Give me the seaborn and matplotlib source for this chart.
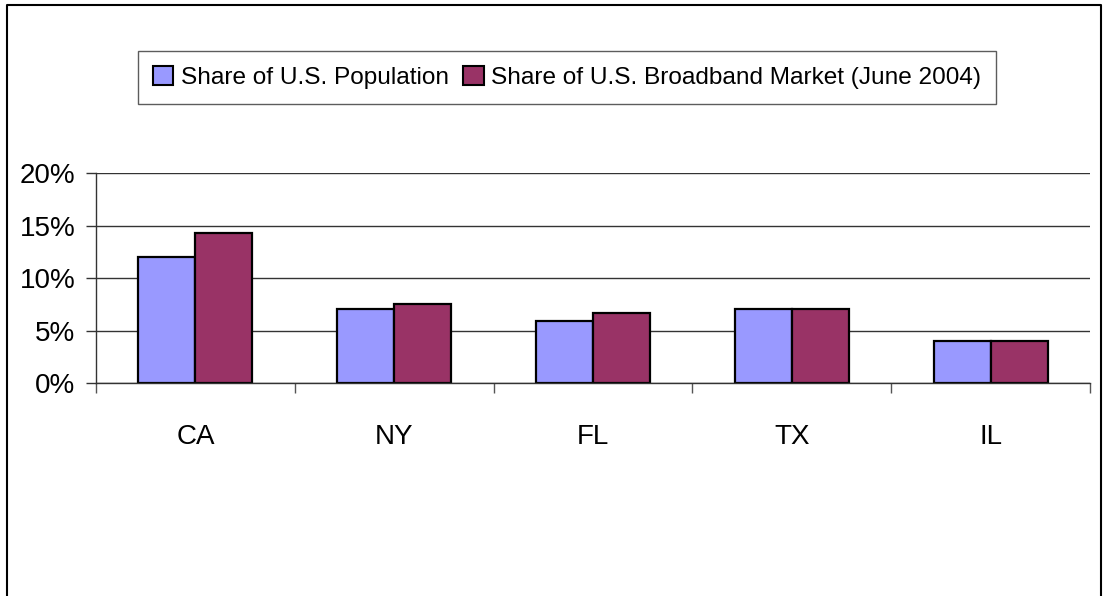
import pandas as pd
import matplotlib.pyplot as plt
import seaborn as sns
from matplotlib.ticker import FixedLocator, PercentFormatter
from matplotlib.lines import Line2D

states = ["CA", "NY", "FL", "TX", "IL"]
population = [12.0, 7.1, 5.9, 7.1, 4.0]
broadband = [14.3, 7.6, 6.7, 7.1, 4.0]
series = ["Share of U.S. Population", "Share of U.S. Broadband Market (June 2004)"]
colors = ["#9999FF", "#993366"]
yticks = [0, 5, 10, 15, 20]

df = pd.DataFrame({
    "State": states * 2,
    "Share": population + broadband,
    "Series": [series[0]] * len(states) + [series[1]] * len(states),
})

sns.set_theme(style="white")
plt.rcParams["font.family"] = ["Liberation Sans Narrow", "Liberation Sans", "DejaVu Sans"]
plt.rcParams["text.color"] = "black"
plt.rcParams["xtick.color"] = "black"
plt.rcParams["ytick.color"] = "black"

fig = plt.figure(figsize=(11.04, 5.96), dpi=100)
ax = fig.add_axes([96 / 1104, 1 - 383.3 / 596, 994 / 1104, 210 / 596])

sns.barplot(data=df, x="State", y="Share", hue="Series", palette=colors,
            width=0.574, gap=0, edgecolor="black", linewidth=1.6,
            saturation=1, ax=ax, legend=False)

ax.set_xlim(-0.5, len(states) - 0.5)
ax.set_ylim(0, 20)
ax.set_yticks(yticks)
ax.yaxis.set_major_formatter(PercentFormatter(decimals=0))
ax.yaxis.grid(True, color="#333333", linewidth=1)
ax.set_axisbelow(True)
ax.set_xlabel("")
ax.set_ylabel("")

# category boundary ticks like the old spreadsheet chart
ax.xaxis.set_minor_locator(FixedLocator([i - 0.5 for i in range(len(states) + 1)]))
ax.tick_params(axis="x", which="major", length=0, pad=29, labelsize=20)
ax.tick_params(axis="x", which="minor", bottom=True, length=7, width=1, color="#555555")
ax.tick_params(axis="y", left=True, length=7, width=1, color="#333333", pad=8, labelsize=20)

for side in ["top", "right"]:
    ax.spines[side].set_visible(False)
for side in ["left", "bottom"]:
    ax.spines[side].set_color("#333333")
    ax.spines[side].set_linewidth(1)

handles = [plt.Rectangle((0, 0), 1, 1, facecolor=c, edgecolor="black", linewidth=1.5)
           for c in colors]
leg = fig.legend(handles, series, loc="center", bbox_to_anchor=(567 / 1104, 1 - 77.5 / 596),
                 ncol=2, fontsize=17.6, frameon=True, fancybox=False, edgecolor="#333333",
                 handlelength=0.85, handleheight=0.85, handletextpad=0.3,
                 columnspacing=0.6, borderpad=0.6, borderaxespad=0)
leg.get_frame().set_linewidth(1)

# outer chart border (left, top, right)
fig.add_artist(Line2D([7 / 1104, 7 / 1104, 1101 / 1104, 1101 / 1104],
                      [0, 1 - 5 / 596, 1 - 5 / 596, 0],
                      transform=fig.transFigure, color="black", linewidth=1.5))

plt.savefig("out.png", dpi=100)
plt.close()
